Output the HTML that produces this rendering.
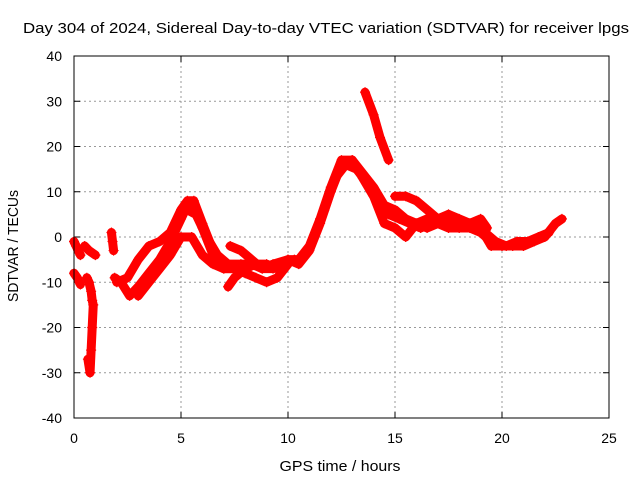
<!DOCTYPE html>
<html><head><meta charset="utf-8"><style>
body{margin:0;background:#fff}
svg{display:block;font-family:"Liberation Sans",sans-serif}
</style></head><body>
<svg id="chart" width="640" height="480" xmlns="http://www.w3.org/2000/svg">
<text x="326" y="33" text-anchor="middle" font-size="15" textLength="606" lengthAdjust="spacingAndGlyphs">Day 304 of 2024, Sidereal Day-to-day VTEC variation (SDTVAR) for receiver lpgs</text>
<text x="340" y="471" text-anchor="middle" font-size="15" textLength="121" lengthAdjust="spacingAndGlyphs">GPS time / hours</text>
<text transform="translate(18,246) rotate(-90)" text-anchor="middle" font-size="15" textLength="112" lengthAdjust="spacingAndGlyphs">SDTVAR / TECUs</text>
<g id="grid"></g><g id="ticks"></g><g id="series"></g>
<rect x="74" y="56" width="535" height="362" fill="none" stroke="#000" stroke-width="1"/>
</svg>
<script>
const xTicks=[0,5,10,15,20,25];
const yTicks=[-40,-30,-20,-10,0,10,20,30,40];
const sA_h=[0,0.1,0.2,0.3];const sA_v=[-1,-2,-3,-4];
const sB_h=[0,0.15,0.3];const sB_v=[-8,-9,-10.5];
const sC_h=[0.6,0.7,0.8,0.85,0.9,0.85,0.8,0.75,0.65];const sC_v=[-9,-10,-12,-14,-15,-20,-25,-30,-27];
const sD_h=[0.5,0.7,1.0];const sD_v=[-2,-3,-4];
const sE_h=[1.75,1.8,1.85];const sE_v=[1,-1,-3];
const s1_h=[1.9,2.2,2.6,3,3.5,4,4.5,5,5.3,5.6,6,6.5,7,7.5];const s1_v=[-9,-10,-13,-11,-8,-5,-1,4,7,7,2,-4,-7,-7];
const s2_h=[2.0,2.5,3,3.5,4,4.5,5,5.3,5.6,6,6.5,7];const s2_v=[-10,-9,-5,-2,-1,1,6,8,8,3,-3,-6];
const s3_h=[3,3.5,4,4.5,5,5.5,6,6.5,7,7.5,8,8.5,9,9.5,10];const s3_v=[-13,-10,-7,-4,0,0,-4,-6,-7,-7,-8,-9,-10,-9,-6];
const s8_h=[5.3,5.7,6.2,6.7,7.2,7.8,8.3,8.8,9.3,9.8,10.3];const s8_v=[6,5,0,-4,-6,-6,-6,-7,-7,-6,-5];
const s4_h=[7.2,7.5,8,8.5,9,9.5,10,10.5,11,11.5,12,12.5,13,13.5,14,14.5,15,15.5,16,16.5,17,17.5,18,18.5,19,19.5,20,20.5,21,21.5,22,22.5,22.8];
const s4_v=[-11,-9,-7,-6,-6,-7,-5,-6,-3,3,10,16,17,14,11,7,6,4,3,2,3,2,2,2,1,-1,-2,-2,-2,-1,0,3,4];
const s5_h=[7.3,7.8,8.3,8.8,9.3,10,10.5,11,11.5,12,12.5,13,13.5,14,14.5,15,15.5,16,16.5,17,17.5,18,18.5,19,19.5,20];
const s5_v=[-2,-3,-5,-7,-6,-5,-5,-2,4,11,17,17,13,9,3,2,0,3,4,3,5,3,3,2,-2,-2];
const s9_h=[11.2,11.7,12.2,12.7,13.2,13.7,14.2,14.7,15.2,15.7,16.2,16.7,17.2,17.7,18.2,18.7,19.2,19.7,20.2,20.7,21.2,21.7,22.2];
const s9_v=[0,6,13,16,15,12,8,5,4,3,2,3,4,3,3,2,1,-1,-2,-1,-1,0,1];
const s6_h=[15,15.5,16,16.5,17,17.5,18,18.5,19,19.3];const s6_v=[9,9,8,6,4,5,4,3,4,2];
const s7_h=[13.6,14,14.3,14.7];const s7_v=[32,27,22,17];
const seriesList=[[sA_h,sA_v],[sB_h,sB_v],[sC_h,sC_v],[sD_h,sD_v],[sE_h,sE_v],[s1_h,s1_v],[s2_h,s2_v],[s3_h,s3_v],[s8_h,s8_v],[s4_h,s4_v],[s5_h,s5_v],[s9_h,s9_v],[s6_h,s6_v],[s7_h,s7_v]];
const X=h=>74+h*21.4, Y=v=>237-v*4.525;
const NS="http://www.w3.org/2000/svg";
const grid=document.getElementById('grid'),ticks=document.getElementById('ticks'),ser=document.getElementById('series');
function mk(t,a,p){const e=document.createElementNS(NS,t);for(const k in a)e.setAttribute(k,a[k]);p.appendChild(e);return e;}
xTicks.forEach(t=>{
 if(t>0&&t<25){const g=mk('line',{x1:X(t),x2:X(t),y1:56,y2:418,stroke:'#999','stroke-dasharray':'2,3'},grid);
 
 }
 mk('line',{x1:X(t),x2:X(t),y1:418,y2:412,stroke:'#000'},ticks);
 mk('line',{x1:X(t),x2:X(t),y1:56,y2:62,stroke:'#000'},ticks);
 const l=mk('text',{x:X(t),y:443,'text-anchor':'middle','font-size':14},ticks);l.textContent=t;
 
 
});
yTicks.forEach(t=>{
 if(t>-40&&t<40){const g=mk('line',{x1:74,x2:609,y1:Y(t),y2:Y(t),stroke:'#999','stroke-dasharray':'2,3'},grid);
 
 }
 mk('line',{x1:74,x2:80,y1:Y(t),y2:Y(t),stroke:'#000'},ticks);
 mk('line',{x1:609,x2:603,y1:Y(t),y2:Y(t),stroke:'#000'},ticks);
 const l=mk('text',{x:62,y:Y(t)+5,'text-anchor':'end','font-size':14},ticks);l.textContent=t;
 
 
});
seriesList.forEach(([hs,vs],i)=>{
 const pts=hs.map((h,j)=>X(h)+','+Y(vs[j])).join(' ');
 const p=mk('polyline',{points:pts,fill:'none',stroke:'#f00','stroke-width':9,'stroke-linejoin':'round','stroke-linecap':'round'},ser);
 
 
 hs.forEach((h,j)=>{
  const x=X(h),y=Y(vs[j]);
  const m=mk('path',{d:`M${x-5},${y}h10M${x},${y-5}v10`,stroke:'#f00','stroke-width':1.2},ser);
  
  
 });
});
</script>
</body></html>
